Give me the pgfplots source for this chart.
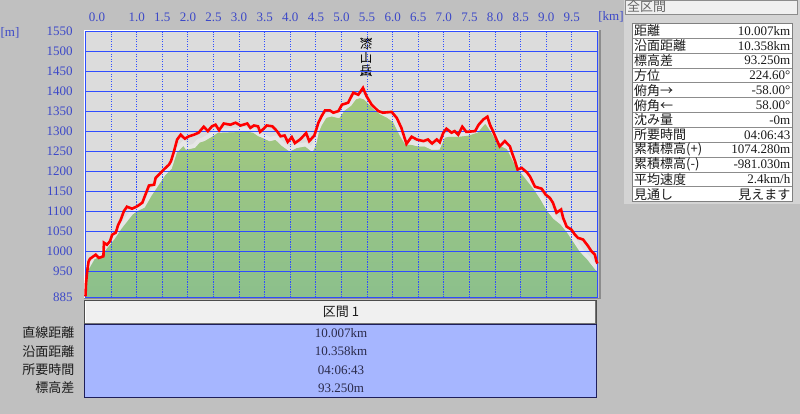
\documentclass[border=0pt]{standalone}
\usepackage{pgfplots}
\pgfplotsset{compat=1.18}
\usepackage{pgfplotstable}
\usepackage{fontspec}
\setmainfont{Liberation Serif}
\newfontfamily\jp{Noto Sans CJK JP}
\definecolor{winbg}{HTML}{C0C0C0}
\definecolor{panelbg}{HTML}{D4D4D4}
\definecolor{plotbg}{HTML}{DCDCDC}
\definecolor{gridblue}{HTML}{2F4DFF}
\definecolor{tickblue}{HTML}{3C48C8}
\definecolor{gtopx}{HTML}{ADCB79}
\definecolor{gbot}{HTML}{8CC08C}
\definecolor{bandc}{HTML}{E6E6E6}
\definecolor{rowblue}{HTML}{A6B6FF}
\definecolor{navy}{HTML}{1E1E5A}
\definecolor{txt}{HTML}{1A1A1A}
\definecolor{valtxt}{HTML}{2A2A4A}
\newcommand\fs{\fontsize{13}{13}\selectfont}

\pgfplotstableread{
x y
0.00 968
0.02 962
0.05 958
0.15 980
0.28 988
0.38 1005
0.54 1030
0.67 1055
0.80 1076
0.90 1092
1.00 1101
1.13 1109
1.26 1138
1.39 1163
1.52 1188
1.65 1205
1.75 1245
1.86 1259
1.92 1267
1.98 1255
2.12 1259
2.21 1272
2.31 1276
2.47 1288
2.57 1297
2.96 1299
3.10 1301
3.29 1297
3.39 1288
3.47 1284
3.60 1276
3.72 1280
3.86 1263
3.99 1251
4.12 1259
4.30 1263
4.42 1251
4.47 1265
4.52 1295
4.58 1313
4.68 1334
4.81 1338
4.94 1334
5.03 1351
5.16 1363
5.26 1380
5.36 1384
5.46 1380
5.56 1367
5.65 1355
5.78 1342
5.91 1334
6.04 1322
6.17 1288
6.27 1267
6.37 1267
6.50 1263
6.63 1263
6.76 1255
6.89 1255
6.99 1284
7.08 1287
7.28 1287
7.47 1290
7.64 1297
7.77 1317
7.83 1320
7.93 1301
8.03 1280
8.13 1263
8.26 1255
8.39 1222
8.52 1197
8.65 1176
8.78 1155
8.91 1130
9.04 1101
9.17 1080
9.30 1067
9.43 1047
9.56 1022
9.69 997
9.82 980
9.95 959
10.007 950
}\terrain

\pgfplotstableread{
x y
0.00 888
0.01 920
0.03 947
0.06 975
0.09 982
0.20 992
0.26 984
0.35 988
0.36 1022
0.42 1017
0.48 1026
0.52 1042
0.59 1047
0.64 1067
0.69 1080
0.75 1101
0.81 1112
0.91 1107
1.01 1113
1.11 1122
1.17 1142
1.24 1165
1.34 1167
1.37 1184
1.47 1197
1.53 1205
1.63 1217
1.67 1226
1.73 1251
1.79 1280
1.86 1292
1.94 1282
2.02 1288
2.12 1292
2.21 1297
2.31 1312
2.39 1301
2.47 1313
2.54 1317
2.61 1303
2.70 1320
2.83 1317
2.93 1322
3.03 1315
3.16 1320
3.22 1309
3.29 1315
3.37 1313
3.41 1299
3.48 1307
3.54 1315
3.65 1313
3.74 1301
3.81 1288
3.89 1290
3.95 1274
4.03 1286
4.09 1271
4.19 1280
4.31 1296
4.37 1276
4.47 1290
4.55 1322
4.61 1338
4.68 1353
4.77 1353
4.84 1347
4.94 1351
5.01 1367
5.13 1372
5.23 1397
5.33 1392
5.42 1409
5.49 1388
5.59 1367
5.72 1351
5.81 1347
5.98 1349
6.08 1334
6.17 1309
6.27 1269
6.37 1287
6.47 1280
6.60 1276
6.69 1280
6.77 1270
6.86 1280
6.92 1273
6.99 1297
7.05 1307
7.15 1297
7.21 1301
7.28 1292
7.36 1312
7.44 1299
7.61 1301
7.68 1317
7.77 1330
7.85 1337
7.90 1317
7.96 1301
8.03 1280
8.09 1263
8.19 1276
8.29 1263
8.33 1247
8.39 1226
8.44 1205
8.52 1209
8.62 1198
8.68 1188
8.78 1162
8.91 1157
8.99 1142
9.07 1134
9.13 1122
9.20 1097
9.29 1105
9.33 1084
9.40 1062
9.49 1055
9.56 1042
9.62 1034
9.72 1030
9.82 1013
9.88 1001
9.95 992
9.98 976
10.00 970
}\track

\pgfplotsset{set layers=axis on top}

\begin{document}
\begin{tikzpicture}
\fill[winbg] (0pt,0pt) rectangle (800pt,-414pt);
\begin{scope}[x=1pt,y=-1pt]
  \fill[panelbg] (624,0) rectangle (800,204);
  \draw[white, line width=1pt] (84,298) -- (84,30.5) -- (598.5,30.5);
  \draw[black!45, line width=2pt] (599.5,30.5) -- (599.5,299);
  \draw[black!45, line width=1.5pt] (84,298.7) -- (600.5,298.7);
\end{scope}

\begin{axis}[
  at={(85.5pt,-297.5pt)}, anchor=south west,
  scale only axis, width=512.3pt, height=266pt,
  xmin=0, xmax=10.007, ymin=885, ymax=1550,
  axis line style={draw=gridblue, line width=1.1pt},
  xtick={0,0.5,1,1.5,2,2.5,3,3.5,4,4.5,5,5.5,6,6.5,7,7.5,8,8.5,9,9.5},
  xticklabels={{},{},1.0,1.5,2.0,2.5,3.0,3.5,4.0,4.5,5.0,5.5,6.0,6.5,7.0,7.5,8.0,8.5,9.0,9.5},
  ytick={885,950,1000,1050,1100,1150,1200,1250,1300,1350,1400,1450,1500,1550},
  yticklabels={885,950,1000,1050,1100,1150,1200,1250,1300,1350,1400,1450,1500,1550},
  xmajorgrids, ymajorgrids,
  x grid style={draw=gridblue, line width=1.1pt, dash pattern=on 1.1pt off 1.4pt},
  y grid style={draw=gridblue, line width=1.2pt},
  major tick length=0pt,
  xticklabel pos=upper,
  ticklabel style={font=\fs, text=tickblue, inner sep=0pt},
  xticklabel style={anchor=south, yshift=9.4pt},
  yticklabel style={anchor=east, xshift=-12.6pt},
]
\fill[top color=gtopx, bottom color=gbot] (rel axis cs:0,0) rectangle (rel axis cs:1,1);
\addplot[fill=plotbg, draw=none] table {\terrain} -- (axis cs:10.007,1560) -- (axis cs:0,1560) -- cycle;
\addplot[bandc, line width=4pt, yshift=2pt] table {\terrain};
\addplot[red, line width=2.6pt, on layer=axis foreground] table {\track};
\end{axis}

\begin{scope}[x=1pt,y=-1pt]
  % axis unit labels
  \node[font=\fs, text=tickblue, inner sep=0pt] at (97,17) {0.0};
  \node[font=\fs, text=tickblue, inner sep=0pt] at (611,17) {[km]};
  \node[font=\fs, text=tickblue, inner sep=0pt] at (10,33) {[m]};
  % peak label
  \draw[black, line width=0.7pt] (360.5,38) arc[start angle=180, end angle=0, x radius=5.5, y radius=3.5];
  \node[font=\jp\fontsize{12.5}{12.5}\selectfont, inner sep=0pt] at (366,44) {漆};
  \node[font=\jp\fontsize{12.5}{12.5}\selectfont, inner sep=0pt] at (366,58) {山};
  \node[font=\jp\fontsize{12.5}{12.5}\selectfont, inner sep=0pt] at (366,71) {岳};
  \draw[black, line width=0.7pt] (360.5,76) arc[start angle=180, end angle=360, x radius=5.5, y radius=3.5];

  % right panel header
  \draw[fill=black!6, draw=black!45] (625,0.5) rectangle (797,14);
  \node[font=\jp\fs, text=black!60, anchor=west, inner sep=0pt] at (627,7) {全区間};
  % right table
  \def\rh{14.87}
  \draw[fill=white, draw=black!50, line width=0.8pt] (632.7,23.3) rectangle (792.3,201.7);
  \foreach \i in {1,...,11} {
    \draw[black!45, line width=0.8pt] (632.7,23.3+\i*\rh) -- (792.3,23.3+\i*\rh);
  }
  \foreach \lab/\val [count=\i from 0] in {
      距離/{\fs 10.007km},
      沿面距離/{\fs 10.358km},
      標高差/{\fs 93.250m},
      方位/{\fs 224.60°},
      俯角→/{\fs -58.00°},
      俯角←/{\fs 58.00°},
      沈み量/{\fs -0m},
      所要時間/{\fs 04:06:43},
      累積標高(+)/{\fs 1074.280m},
      累積標高(-)/{\fs -981.030m},
      平均速度/{\fs 2.4km/h},
      見通し/{\jp\fs 見えます}} {
    \node[font=\jp\fs, text=txt, anchor=west, inner sep=0pt] at (634,23.3+\i*\rh+0.5*\rh) {\lab};
    \node[text=txt, anchor=east, inner sep=0pt] at (790.5,23.3+\i*\rh+0.5*\rh) {\val};
  }

  % bottom section table
  \fill[black!6] (84.5,300) rectangle (596,324);
  \draw[white, line width=1pt] (85,323.5) -- (85,300.5) -- (595.5,300.5);
  \draw[black!55, line width=1.2pt] (595.5,300.5) -- (595.5,323.5) -- (85,323.5);
  \draw[black!70, line width=0.6pt] (84.5,300) rectangle (596,324);
  \node[font=\jp\fs, text=txt, inner sep=0pt] at (341,312) {区間 1};
  \draw[fill=rowblue, draw=navy, line width=1pt] (84.5,324) rectangle (596,397);
  \foreach \lab/\val/\yy in {直線距離/10.007km/333, 沿面距離/10.358km/351.5, 所要時間/04:06:43/370, 標高差/93.250m/388} {
    \node[font=\jp\fs, text=txt, anchor=east, inner sep=0pt] at (74.5,\yy) {\lab};
    \node[font=\fs, text=valtxt, inner sep=0pt] at (341,\yy) {\val};
  }
\end{scope}
\end{tikzpicture}
\end{document}
